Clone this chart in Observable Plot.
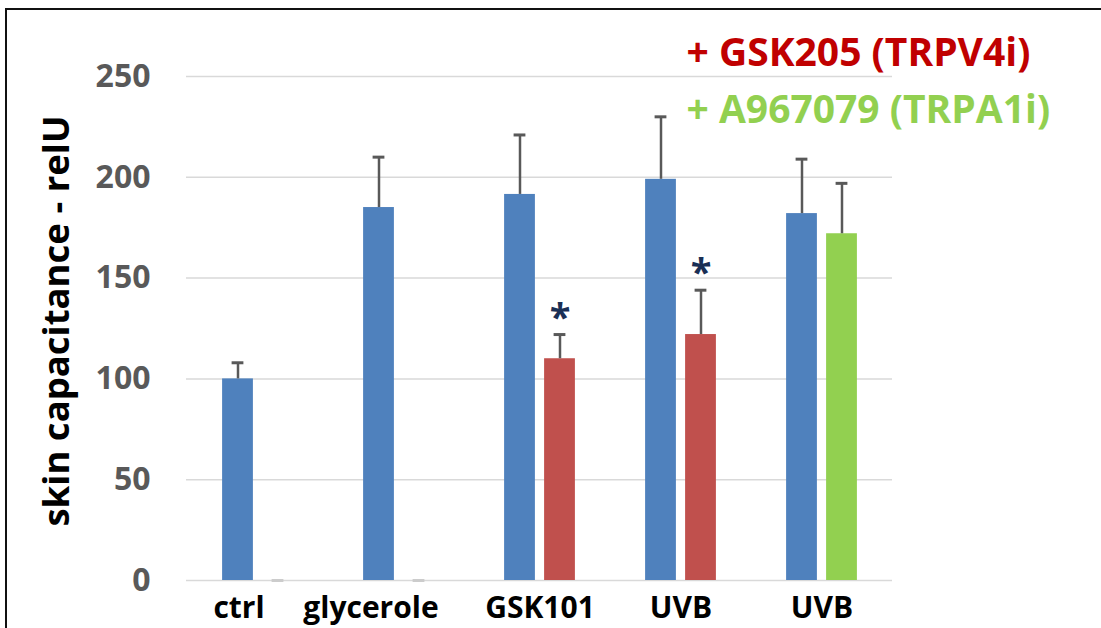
<!DOCTYPE html>
<html><head><meta charset="utf-8">
<script src="https://cdn.jsdelivr.net/npm/d3@7"></script>
<script src="https://cdn.jsdelivr.net/npm/@observablehq/plot@0.6"></script>
<style>
html,body{margin:0;padding:0;background:#fff;overflow:hidden}
#wrap{position:relative;width:1101px;height:628px;overflow:hidden;font-family:'Open Sans',sans-serif}
#chart{position:absolute;left:0;top:0}
#frame{position:absolute;left:5px;top:8px;width:1200px;height:700px;border-top:2.5px solid #111;border-left:2.5px solid #111;pointer-events:none}
#ylabel{position:absolute;left:55px;top:321px;transform:translate(-50%,-50%) rotate(-90deg);white-space:nowrap;font-size:36.5px;font-weight:bold;color:#000;line-height:1}
</style></head><body><div id="wrap"><div id="chart"></div><div id="ylabel"></div><div id="frame"></div></div>
<script>
// categories
const groups = ["ctrl", "glycerole", "GSK101", "UVB", "UVB"];
// series 1 (untreated, blue): mean and SD
const baseMean = [100, 185, 191.5, 199, 182];
const baseSd   = [8, 25, 29.5, 31, 27];
// series 2 (with inhibitor): mean and SD
const treatMean = [0, 0, 110, 122, 172];
const treatSd   = [0, 0, 12, 22, 25];
const treatColor = ["#c0504d", "#c0504d", "#c0504d", "#c0504d", "#92d050"];
const significant = [false, false, true, true, false];
// y ticks
const yTicks = [0, 50, 100, 150, 200, 250];
// legend
const legendLines = ["+ GSK205 (TRPV4i)", "+ A967079 (TRPA1i)"];
const legendColors = ["#c00000", "#92d050"];
const yLabel = "skin capacitance - relU";

const base = groups.map((g, i) => ({i, g, mean: baseMean[i], sd: baseSd[i]}));
const treat = groups.map((g, i) => ({i, g, mean: treatMean[i], sd: treatSd[i], color: treatColor[i], sig: significant[i]}));

const W = 1101, H = 628;
const mL = 186, mR = 209, mT = 76, mB = 48;
const band = (W - mL - mR) / groups.length;
const half = band / 2;
const off = 20, bw = 31, cap = 12;

const barInL1 = half - off - bw / 2, barInR1 = half + off - bw / 2;
const capInL1 = half - off - cap / 2, capInR1 = half + off - cap / 2;

const ebar = "#595959";
const fmt = i => groups[i];
const xAxisOpts = {tickSize: 0, tickPadding: 16, fontSize: 30, fontWeight: "bold", color: "#000", label: null, tickFormat: fmt};

const plot = Plot.plot({
  width: W, height: H,
  marginLeft: mL, marginRight: mR, marginTop: mT, marginBottom: mB,
  style: {fontFamily: "'Open Sans', sans-serif", background: "transparent"},
  x: {type: "band", domain: d3.range(groups.length), padding: 0, tickFormat: fmt},
  y: {domain: [0, 250]},
  marks: [
    Plot.gridY(yTicks, {stroke: "#d9d9d9", strokeOpacity: 1, strokeWidth: 1.5}),
    Plot.barY(base, {x: "i", y: "mean", fill: "#4f81bd", insetLeft: barInL1, insetRight: barInR1}),
    Plot.barY(treat, {x: "i", y: "mean", fill: "color", insetLeft: barInR1, insetRight: barInL1}),
    Plot.ruleX(base, {x: "i", y1: "mean", y2: d => d.mean + d.sd, dx: -off, stroke: ebar, strokeWidth: 2.5}),
    Plot.tickY(base, {x: "i", y: d => d.mean + d.sd, stroke: ebar, strokeWidth: 3, insetLeft: capInL1, insetRight: capInR1}),
    Plot.ruleX(treat, {x: "i", y1: "mean", y2: d => d.mean + d.sd, dx: off, stroke: ebar, strokeWidth: 2.5}),
    Plot.tickY(treat, {x: "i", y: d => d.mean + d.sd, stroke: d => d.sd > 0 ? ebar : "#cccccc", strokeWidth: 3, insetLeft: capInR1, insetRight: capInL1}),
    Plot.text(treat.filter(d => d.sig), {x: "i", y: d => d.mean + d.sd, text: () => "*", dx: off, dy: -4, lineAnchor: "bottom", fontSize: 38, fontWeight: "bold", fill: "#1a2f55"}),
    Plot.axisY(yTicks, {tickSize: 0, tickPadding: 36, fontSize: 32, fontWeight: "bold", color: "#595959", label: null}),
    Plot.axisX([0], {...xAxisOpts, dx: -19}),
    Plot.axisX([1], {...xAxisOpts, dx: -28}),
    Plot.axisX([2, 3, 4], xAxisOpts),
    Plot.text([legendLines[0]], {frameAnchor: "top-left", dx: 686 - mL, dy: 65 - mT, textAnchor: "start", lineAnchor: "bottom", fontSize: 39, fontWeight: "bold", fill: legendColors[0]}),
    Plot.text([legendLines[1]], {frameAnchor: "top-left", dx: 686 - mL, dy: 122 - mT, textAnchor: "start", lineAnchor: "bottom", fontSize: 39, fontWeight: "bold", fill: legendColors[1]})
  ]
});
document.getElementById("chart").appendChild(plot);
document.getElementById("ylabel").textContent = yLabel;
</script></body></html>
